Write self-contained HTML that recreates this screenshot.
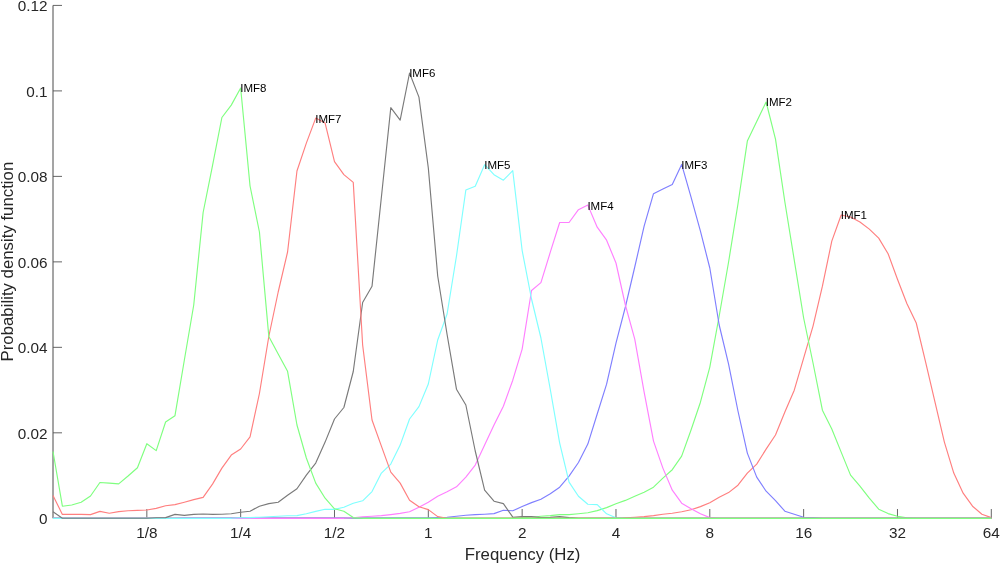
<!DOCTYPE html>
<html><head><meta charset="utf-8"><title>PDF of IMFs</title>
<style>html,body{margin:0;padding:0;background:#fff;} svg{display:block;}</style>
</head><body>
<svg width="1000" height="564" viewBox="0 0 1000 564">
<rect x="0" y="0" width="1000" height="564" fill="#fff"/>
<path d="M53.0 518.3 L53.0 5.4" stroke="#4a4a4a" stroke-width="1" fill="none"/>
<path d="M53.0 518.3 L991.3 518.3" stroke="#4a4a4a" stroke-width="1" fill="none"/>
<path d="M53.0 518.30 L62 518.30 M53.0 432.82 L62 432.82 M53.0 347.34 L62 347.34 M53.0 261.86 L62 261.86 M53.0 176.38 L62 176.38 M53.0 90.90 L62 90.90 M53.0 5.42 L62 5.42 M146.83 518.3 L146.83 509 M240.66 518.3 L240.66 509 M334.49 518.3 L334.49 509 M428.32 518.3 L428.32 509 M522.15 518.3 L522.15 509 M615.98 518.3 L615.98 509 M709.81 518.3 L709.81 509 M803.64 518.3 L803.64 509 M897.47 518.3 L897.47 509 M991.30 518.3 L991.30 509" stroke="#555" stroke-width="0.9" fill="none"/>
<path d="M53.00 518.30 L62.38 518.30 L71.77 518.30 L81.15 518.30 L90.53 518.30 L99.91 518.30 L109.30 518.30 L118.68 518.30 L128.06 518.30 L137.45 518.30 L146.83 518.30 L156.21 518.30 L165.60 518.30 L174.98 518.30 L184.36 518.30 L193.74 518.30 L203.13 518.30 L212.51 518.30 L221.89 518.30 L231.28 518.30 L240.66 518.30 L250.04 518.30 L259.43 518.30 L268.81 518.30 L278.19 518.30 L287.57 518.30 L296.96 518.30 L306.34 518.30 L315.72 518.30 L325.11 518.30 L334.49 518.30 L343.87 518.30 L353.26 518.30 L362.64 518.30 L372.02 518.30 L381.40 518.30 L390.79 518.30 L400.17 518.30 L409.55 518.30 L418.94 518.30 L428.32 518.30 L437.70 518.30 L447.09 518.30 L456.47 518.30 L465.85 518.30 L475.23 518.30 L484.62 518.30 L494.00 518.30 L503.38 518.30 L512.77 518.30 L522.15 518.30 L531.53 518.30 L540.92 518.30 L550.30 518.30 L559.68 518.30 L569.06 518.30 L578.45 518.30 L587.83 518.30 L597.21 518.30 L606.60 518.30 L615.98 518.30 L625.36 517.80 L634.75 517.20 L644.13 516.60 L653.51 515.60 L662.89 514.20 L672.28 513.20 L681.66 511.80 L691.04 509.80 L700.43 506.60 L709.81 502.80 L719.19 497.20 L728.58 492.60 L737.96 485.20 L747.34 473.10 L756.72 464.10 L766.11 449.10 L775.49 435.00 L784.87 412.00 L794.26 390.20 L803.64 358.10 L813.02 326.10 L822.41 286.20 L831.79 241.10 L841.17 215.00 L850.55 217.00 L859.94 222.00 L869.32 229.10 L878.70 238.10 L888.09 253.70 L897.47 279.20 L906.85 303.50 L916.24 323.00 L925.62 362.10 L935.00 402.20 L944.38 442.10 L953.77 473.10 L963.15 493.20 L972.53 506.20 L981.92 514.20 L991.30 517.60" stroke="#ff7f7f" stroke-width="1.15" fill="none" stroke-linejoin="round"/>
<path d="M53.00 518.30 L62.38 518.30 L71.77 518.30 L81.15 518.30 L90.53 518.30 L99.91 518.30 L109.30 518.30 L118.68 518.30 L128.06 518.30 L137.45 518.30 L146.83 518.30 L156.21 518.30 L165.60 518.30 L174.98 518.30 L184.36 518.30 L193.74 518.30 L203.13 518.30 L212.51 518.30 L221.89 518.30 L231.28 518.30 L240.66 518.30 L250.04 518.30 L259.43 518.30 L268.81 518.30 L278.19 518.30 L287.57 518.30 L296.96 518.30 L306.34 518.30 L315.72 518.30 L325.11 518.30 L334.49 518.30 L343.87 518.30 L353.26 518.30 L362.64 518.30 L372.02 518.30 L381.40 518.30 L390.79 518.30 L400.17 518.30 L409.55 518.30 L418.94 518.30 L428.32 518.30 L437.70 518.30 L447.09 518.30 L456.47 518.30 L465.85 518.30 L475.23 518.30 L484.62 518.30 L494.00 518.30 L503.38 518.30 L512.77 518.30 L522.15 517.80 L531.53 517.20 L540.92 516.20 L550.30 515.60 L559.68 514.60 L569.06 514.60 L578.45 513.80 L587.83 512.80 L597.21 510.60 L606.60 507.60 L615.98 503.80 L625.36 500.40 L634.75 496.20 L644.13 492.20 L653.51 487.20 L662.89 478.10 L672.28 469.70 L681.66 456.10 L691.04 430.00 L700.43 402.20 L709.81 367.10 L719.19 316.00 L728.58 262.00 L737.96 204.00 L747.34 141.10 L756.72 121.50 L766.11 102.00 L775.49 139.10 L784.87 202.00 L794.26 260.10 L803.64 318.00 L813.02 363.00 L822.41 410.20 L831.79 429.00 L841.17 452.10 L850.55 475.10 L859.94 486.20 L869.32 498.20 L878.70 509.20 L888.09 513.60 L897.47 516.20 L906.85 517.80 L916.24 518.30 L925.62 518.30 L935.00 518.30 L944.38 518.30 L953.77 518.30 L963.15 518.30 L972.53 518.30 L981.92 518.30 L991.30 518.30" stroke="#7fff7f" stroke-width="1.15" fill="none" stroke-linejoin="round"/>
<path d="M53.00 518.30 L62.38 518.30 L71.77 518.30 L81.15 518.30 L90.53 518.30 L99.91 518.30 L109.30 518.30 L118.68 518.30 L128.06 518.30 L137.45 518.30 L146.83 518.30 L156.21 518.30 L165.60 518.30 L174.98 518.30 L184.36 518.00 L193.74 518.00 L203.13 518.00 L212.51 518.00 L221.89 518.00 L231.28 518.00 L240.66 518.00 L250.04 518.00 L259.43 518.00 L268.81 518.00 L278.19 518.00 L287.57 518.00 L296.96 518.00 L306.34 518.00 L315.72 518.00 L325.11 518.00 L334.49 518.00 L343.87 518.00 L353.26 518.00 L362.64 518.00 L372.02 518.00 L381.40 518.00 L390.79 518.00 L400.17 518.00 L409.55 518.00 L418.94 518.00 L428.32 518.00 L437.70 517.60 L447.09 517.20 L456.47 516.20 L465.85 515.20 L475.23 514.60 L484.62 514.20 L494.00 513.60 L503.38 510.20 L512.77 510.80 L522.15 506.60 L531.53 502.60 L540.92 499.20 L550.30 493.80 L559.68 487.20 L569.06 476.10 L578.45 462.50 L587.83 444.10 L597.21 414.00 L606.60 384.20 L615.98 343.10 L625.36 307.00 L634.75 267.00 L644.13 226.20 L653.51 193.70 L662.89 189.10 L672.28 184.50 L681.66 164.40 L691.04 197.10 L700.43 231.20 L709.81 268.00 L719.19 325.00 L728.58 364.10 L737.96 411.00 L747.34 453.10 L756.72 477.10 L766.11 491.20 L775.49 500.60 L784.87 511.20 L794.26 514.20 L803.64 517.20 L813.02 517.60 L822.41 518.30 L831.79 518.30 L841.17 518.30 L850.55 518.30 L859.94 518.30 L869.32 518.30 L878.70 518.30 L888.09 518.30 L897.47 518.30 L906.85 518.30 L916.24 518.30 L925.62 518.30 L935.00 518.30 L944.38 518.30 L953.77 518.30 L963.15 518.30 L972.53 518.30 L981.92 518.30 L991.30 518.30" stroke="#7f7fff" stroke-width="1.15" fill="none" stroke-linejoin="round"/>
<path d="M53.00 518.30 L62.38 518.30 L71.77 518.30 L81.15 518.30 L90.53 518.30 L99.91 518.30 L109.30 518.30 L118.68 518.30 L128.06 518.30 L137.45 518.30 L146.83 518.30 L156.21 518.30 L165.60 518.30 L174.98 518.30 L184.36 518.30 L193.74 518.30 L203.13 518.30 L212.51 518.30 L221.89 518.30 L231.28 518.30 L240.66 518.30 L250.04 518.30 L259.43 518.30 L268.81 518.30 L278.19 518.30 L287.57 518.30 L296.96 518.30 L306.34 518.30 L315.72 518.30 L325.11 518.30 L334.49 518.30 L343.87 518.30 L353.26 517.80 L362.64 516.80 L372.02 516.20 L381.40 515.60 L390.79 514.60 L400.17 513.40 L409.55 511.80 L418.94 507.20 L428.32 502.20 L437.70 496.20 L447.09 491.80 L456.47 486.80 L465.85 477.10 L475.23 465.10 L484.62 445.10 L494.00 425.00 L503.38 406.20 L512.77 380.20 L522.15 349.10 L531.53 290.50 L540.92 282.60 L550.30 252.20 L559.68 222.50 L569.06 222.50 L578.45 209.70 L587.83 205.10 L597.21 227.20 L606.60 240.20 L615.98 263.00 L625.36 305.00 L634.75 339.10 L644.13 392.20 L653.51 441.10 L662.89 468.10 L672.28 490.20 L681.66 503.20 L691.04 508.80 L700.43 513.80 L709.81 517.60 L719.19 518.30 L728.58 518.30 L737.96 518.30 L747.34 518.30 L756.72 518.30 L766.11 518.30 L775.49 518.30 L784.87 518.30 L794.26 518.30 L803.64 518.30 L813.02 518.30 L822.41 518.30 L831.79 518.30 L841.17 518.30 L850.55 518.30 L859.94 518.30 L869.32 518.30 L878.70 518.30 L888.09 518.30 L897.47 518.30 L906.85 518.30 L916.24 518.30 L925.62 518.30 L935.00 518.30 L944.38 518.30 L953.77 518.30 L963.15 518.30 L972.53 518.30 L981.92 518.30 L991.30 518.30" stroke="#ff7fff" stroke-width="1.15" fill="none" stroke-linejoin="round"/>
<path d="M53.00 518.30 L62.38 518.30 L71.77 518.30 L81.15 518.30 L90.53 518.30 L99.91 518.30 L109.30 518.30 L118.68 518.30 L128.06 518.30 L137.45 518.30 L146.83 518.30 L156.21 518.30 L165.60 518.30 L174.98 518.30 L184.36 518.30 L193.74 518.30 L203.13 518.30 L212.51 518.30 L221.89 518.30 L231.28 518.30 L240.66 517.80 L250.04 517.60 L259.43 517.20 L268.81 516.80 L278.19 516.20 L287.57 515.80 L296.96 515.60 L306.34 513.80 L315.72 511.40 L325.11 509.20 L334.49 509.40 L343.87 507.20 L353.26 503.20 L362.64 500.80 L372.02 491.60 L381.40 473.10 L390.79 464.10 L400.17 445.10 L409.55 419.00 L418.94 406.60 L428.32 384.00 L437.70 340.00 L447.09 314.00 L456.47 256.00 L465.85 190.00 L475.23 186.20 L484.62 164.70 L494.00 174.70 L503.38 180.20 L512.77 170.70 L522.15 250.50 L531.53 299.00 L540.92 338.00 L550.30 389.50 L559.68 443.10 L569.06 482.10 L578.45 496.20 L587.83 504.20 L597.21 504.60 L606.60 513.80 L615.98 517.80 L625.36 518.30 L634.75 518.30 L644.13 518.30 L653.51 518.30 L662.89 518.30 L672.28 518.30 L681.66 518.30 L691.04 518.30 L700.43 518.30 L709.81 518.30 L719.19 518.30 L728.58 518.30 L737.96 518.30 L747.34 518.30 L756.72 518.30 L766.11 518.30 L775.49 518.30 L784.87 518.30 L794.26 518.30 L803.64 518.30 L813.02 518.30 L822.41 518.30 L831.79 518.30 L841.17 518.30 L850.55 518.30 L859.94 518.30 L869.32 518.30 L878.70 518.30 L888.09 518.30 L897.47 518.30 L906.85 518.30 L916.24 518.30 L925.62 518.30 L935.00 518.30 L944.38 518.30 L953.77 518.30 L963.15 518.30 L972.53 518.30 L981.92 518.30 L991.30 518.30" stroke="#7fffff" stroke-width="1.15" fill="none" stroke-linejoin="round"/>
<path d="M53.00 511.80 L62.38 518.20 L71.77 518.20 L81.15 518.20 L90.53 518.20 L99.91 518.20 L109.30 518.20 L118.68 518.20 L128.06 518.20 L137.45 518.20 L146.83 518.20 L156.21 517.80 L165.60 517.60 L174.98 514.40 L184.36 515.40 L193.74 514.40 L203.13 514.00 L212.51 514.40 L221.89 514.20 L231.28 513.80 L240.66 512.20 L250.04 511.20 L259.43 506.20 L268.81 503.60 L278.19 502.20 L287.57 495.20 L296.96 488.80 L306.34 475.10 L315.72 463.10 L325.11 442.10 L334.49 419.00 L343.87 407.50 L353.26 371.50 L362.64 302.50 L372.02 286.20 L381.40 197.00 L390.79 107.70 L400.17 120.10 L409.55 73.00 L418.94 97.10 L428.32 168.00 L437.70 276.00 L447.09 334.50 L456.47 389.20 L465.85 405.00 L475.23 451.00 L484.62 490.20 L494.00 501.20 L503.38 503.60 L512.77 517.20 L522.15 516.60 L531.53 516.60 L540.92 517.60 L550.30 517.40 L559.68 516.60 L569.06 517.60 L578.45 518.30 L587.83 518.30 L597.21 518.30 L606.60 518.30 L615.98 518.30 L625.36 518.30 L634.75 518.30 L644.13 518.30 L653.51 518.30 L662.89 518.30 L672.28 518.30 L681.66 518.30 L691.04 518.30 L700.43 518.30 L709.81 518.30 L719.19 518.30 L728.58 518.30 L737.96 518.30 L747.34 518.30 L756.72 518.30 L766.11 518.30 L775.49 518.30 L784.87 518.30 L794.26 518.30 L803.64 518.30 L813.02 518.30 L822.41 518.30 L831.79 518.30 L841.17 518.30 L850.55 518.30 L859.94 518.30 L869.32 518.30 L878.70 518.30 L888.09 518.30 L897.47 518.30 L906.85 518.30 L916.24 518.30 L925.62 518.30 L935.00 518.30 L944.38 518.30 L953.77 518.30 L963.15 518.30 L972.53 518.30 L981.92 518.30 L991.30 518.30" stroke="#7a7a7a" stroke-width="1.15" fill="none" stroke-linejoin="round"/>
<path d="M53.00 495.60 L62.38 514.40 L71.77 514.40 L81.15 514.40 L90.53 514.60 L99.91 511.40 L109.30 513.20 L118.68 511.60 L128.06 510.80 L137.45 510.40 L146.83 510.00 L156.21 508.40 L165.60 505.80 L174.98 504.60 L184.36 502.20 L193.74 499.60 L203.13 497.40 L212.51 484.10 L221.89 468.10 L231.28 455.10 L240.66 449.00 L250.04 436.80 L259.43 393.50 L268.81 336.50 L278.19 292.00 L287.57 252.00 L296.96 171.00 L306.34 143.10 L315.72 118.10 L325.11 123.10 L334.49 161.60 L343.87 174.60 L353.26 182.40 L362.64 345.00 L372.02 420.00 L381.40 446.10 L390.79 472.10 L400.17 483.10 L409.55 500.20 L418.94 506.80 L428.32 509.60 L437.70 516.60 L447.09 518.30 L456.47 518.30 L465.85 518.30 L475.23 518.30 L484.62 518.30 L494.00 518.30 L503.38 518.30 L512.77 518.30 L522.15 518.30 L531.53 518.30 L540.92 518.30 L550.30 518.30 L559.68 518.30 L569.06 518.30 L578.45 518.30 L587.83 518.30 L597.21 518.30 L606.60 518.30 L615.98 518.30 L625.36 518.30 L634.75 518.30 L644.13 518.30 L653.51 518.30 L662.89 518.30 L672.28 518.30 L681.66 518.30 L691.04 518.30 L700.43 518.30 L709.81 518.30 L719.19 518.30 L728.58 518.30 L737.96 518.30 L747.34 518.30 L756.72 518.30 L766.11 518.30 L775.49 518.30 L784.87 518.30 L794.26 518.30 L803.64 518.30 L813.02 518.30 L822.41 518.30 L831.79 518.30 L841.17 518.30 L850.55 518.30 L859.94 518.30 L869.32 518.30 L878.70 518.30 L888.09 518.30 L897.47 518.30 L906.85 518.30 L916.24 518.30 L925.62 518.30 L935.00 518.30 L944.38 518.30 L953.77 518.30 L963.15 518.30 L972.53 518.30 L981.92 518.30 L991.30 518.30" stroke="#ff7f7f" stroke-width="1.15" fill="none" stroke-linejoin="round"/>
<path d="M53.00 451.50 L62.38 506.20 L71.77 505.00 L81.15 502.20 L90.53 496.00 L99.91 482.50 L109.30 483.10 L118.68 483.90 L128.06 476.00 L137.45 467.70 L146.83 443.70 L156.21 450.60 L165.60 422.00 L174.98 415.70 L184.36 360.00 L193.74 305.00 L203.13 212.50 L212.51 165.60 L221.89 117.50 L231.28 105.10 L240.66 88.00 L250.04 186.00 L259.43 232.00 L268.81 336.40 L278.19 354.00 L287.57 371.30 L296.96 425.00 L306.34 458.00 L315.72 483.10 L325.11 498.20 L334.49 508.80 L343.87 511.20 L353.26 517.60 L362.64 518.30 L372.02 518.30 L381.40 518.30 L390.79 518.30 L400.17 518.30 L409.55 518.30 L418.94 518.30 L428.32 518.30 L437.70 518.30 L447.09 518.30 L456.47 518.30 L465.85 518.30 L475.23 518.30 L484.62 518.30 L494.00 518.30 L503.38 518.30 L512.77 518.30 L522.15 518.30 L531.53 518.30 L540.92 518.30 L550.30 518.30 L559.68 518.30 L569.06 518.30 L578.45 518.30 L587.83 518.30 L597.21 518.30 L606.60 518.30 L615.98 518.30 L625.36 518.30 L634.75 518.30 L644.13 518.30 L653.51 518.30 L662.89 518.30 L672.28 518.30 L681.66 518.30 L691.04 518.30 L700.43 518.30 L709.81 518.30 L719.19 518.30 L728.58 518.30 L737.96 518.30 L747.34 518.30 L756.72 518.30 L766.11 518.30 L775.49 518.30 L784.87 518.30 L794.26 518.30 L803.64 518.30 L813.02 518.30 L822.41 518.30 L831.79 518.30 L841.17 518.30 L850.55 518.30 L859.94 518.30 L869.32 518.30 L878.70 518.30 L888.09 518.30 L897.47 518.30 L906.85 518.30 L916.24 518.30 L925.62 518.30 L935.00 518.30 L944.38 518.30 L953.77 518.30 L963.15 518.30 L972.53 518.30 L981.92 518.30 L991.30 518.30" stroke="#7fff7f" stroke-width="1.15" fill="none" stroke-linejoin="round"/>
<text x="47.6" y="524.10" text-anchor="end" font-size="15.3" fill="#262626" font-family="'Liberation Sans', Arial, Helvetica, sans-serif">0</text>
<text x="47.6" y="438.62" text-anchor="end" font-size="15.3" fill="#262626" font-family="'Liberation Sans', Arial, Helvetica, sans-serif">0.02</text>
<text x="47.6" y="353.14" text-anchor="end" font-size="15.3" fill="#262626" font-family="'Liberation Sans', Arial, Helvetica, sans-serif">0.04</text>
<text x="47.6" y="267.66" text-anchor="end" font-size="15.3" fill="#262626" font-family="'Liberation Sans', Arial, Helvetica, sans-serif">0.06</text>
<text x="47.6" y="182.18" text-anchor="end" font-size="15.3" fill="#262626" font-family="'Liberation Sans', Arial, Helvetica, sans-serif">0.08</text>
<text x="47.6" y="96.70" text-anchor="end" font-size="15.3" fill="#262626" font-family="'Liberation Sans', Arial, Helvetica, sans-serif">0.1</text>
<text x="47.6" y="11.22" text-anchor="end" font-size="15.3" fill="#262626" font-family="'Liberation Sans', Arial, Helvetica, sans-serif">0.12</text>
<text x="146.83" y="538.4" text-anchor="middle" font-size="15.3" fill="#262626" font-family="'Liberation Sans', Arial, Helvetica, sans-serif">1/8</text>
<text x="240.66" y="538.4" text-anchor="middle" font-size="15.3" fill="#262626" font-family="'Liberation Sans', Arial, Helvetica, sans-serif">1/4</text>
<text x="334.49" y="538.4" text-anchor="middle" font-size="15.3" fill="#262626" font-family="'Liberation Sans', Arial, Helvetica, sans-serif">1/2</text>
<text x="428.32" y="538.4" text-anchor="middle" font-size="15.3" fill="#262626" font-family="'Liberation Sans', Arial, Helvetica, sans-serif">1</text>
<text x="522.15" y="538.4" text-anchor="middle" font-size="15.3" fill="#262626" font-family="'Liberation Sans', Arial, Helvetica, sans-serif">2</text>
<text x="615.98" y="538.4" text-anchor="middle" font-size="15.3" fill="#262626" font-family="'Liberation Sans', Arial, Helvetica, sans-serif">4</text>
<text x="709.81" y="538.4" text-anchor="middle" font-size="15.3" fill="#262626" font-family="'Liberation Sans', Arial, Helvetica, sans-serif">8</text>
<text x="803.64" y="538.4" text-anchor="middle" font-size="15.3" fill="#262626" font-family="'Liberation Sans', Arial, Helvetica, sans-serif">16</text>
<text x="897.47" y="538.4" text-anchor="middle" font-size="15.3" fill="#262626" font-family="'Liberation Sans', Arial, Helvetica, sans-serif">32</text>
<text x="991.30" y="538.4" text-anchor="middle" font-size="15.3" fill="#262626" font-family="'Liberation Sans', Arial, Helvetica, sans-serif">64</text>
<text x="522.6" y="559.7" text-anchor="middle" font-size="16.8" fill="#262626" font-family="'Liberation Sans', Arial, Helvetica, sans-serif">Frequency (Hz)</text>
<text transform="translate(12.8 261.6) rotate(-90)" x="0" y="0" text-anchor="middle" font-size="16.8" fill="#262626" font-family="'Liberation Sans', Arial, Helvetica, sans-serif">Probability density function</text>
<text x="240.26" y="92.40" font-size="11.5" fill="#000" font-family="'Liberation Sans', Arial, Helvetica, sans-serif">IMF8</text>
<text x="315.32" y="122.50" font-size="11.5" fill="#000" font-family="'Liberation Sans', Arial, Helvetica, sans-serif">IMF7</text>
<text x="409.15" y="77.40" font-size="11.5" fill="#000" font-family="'Liberation Sans', Arial, Helvetica, sans-serif">IMF6</text>
<text x="484.22" y="169.10" font-size="11.5" fill="#000" font-family="'Liberation Sans', Arial, Helvetica, sans-serif">IMF5</text>
<text x="587.43" y="209.50" font-size="11.5" fill="#000" font-family="'Liberation Sans', Arial, Helvetica, sans-serif">IMF4</text>
<text x="681.26" y="168.80" font-size="11.5" fill="#000" font-family="'Liberation Sans', Arial, Helvetica, sans-serif">IMF3</text>
<text x="765.71" y="106.40" font-size="11.5" fill="#000" font-family="'Liberation Sans', Arial, Helvetica, sans-serif">IMF2</text>
<text x="840.77" y="219.40" font-size="11.5" fill="#000" font-family="'Liberation Sans', Arial, Helvetica, sans-serif">IMF1</text>
</svg>
</body></html>
